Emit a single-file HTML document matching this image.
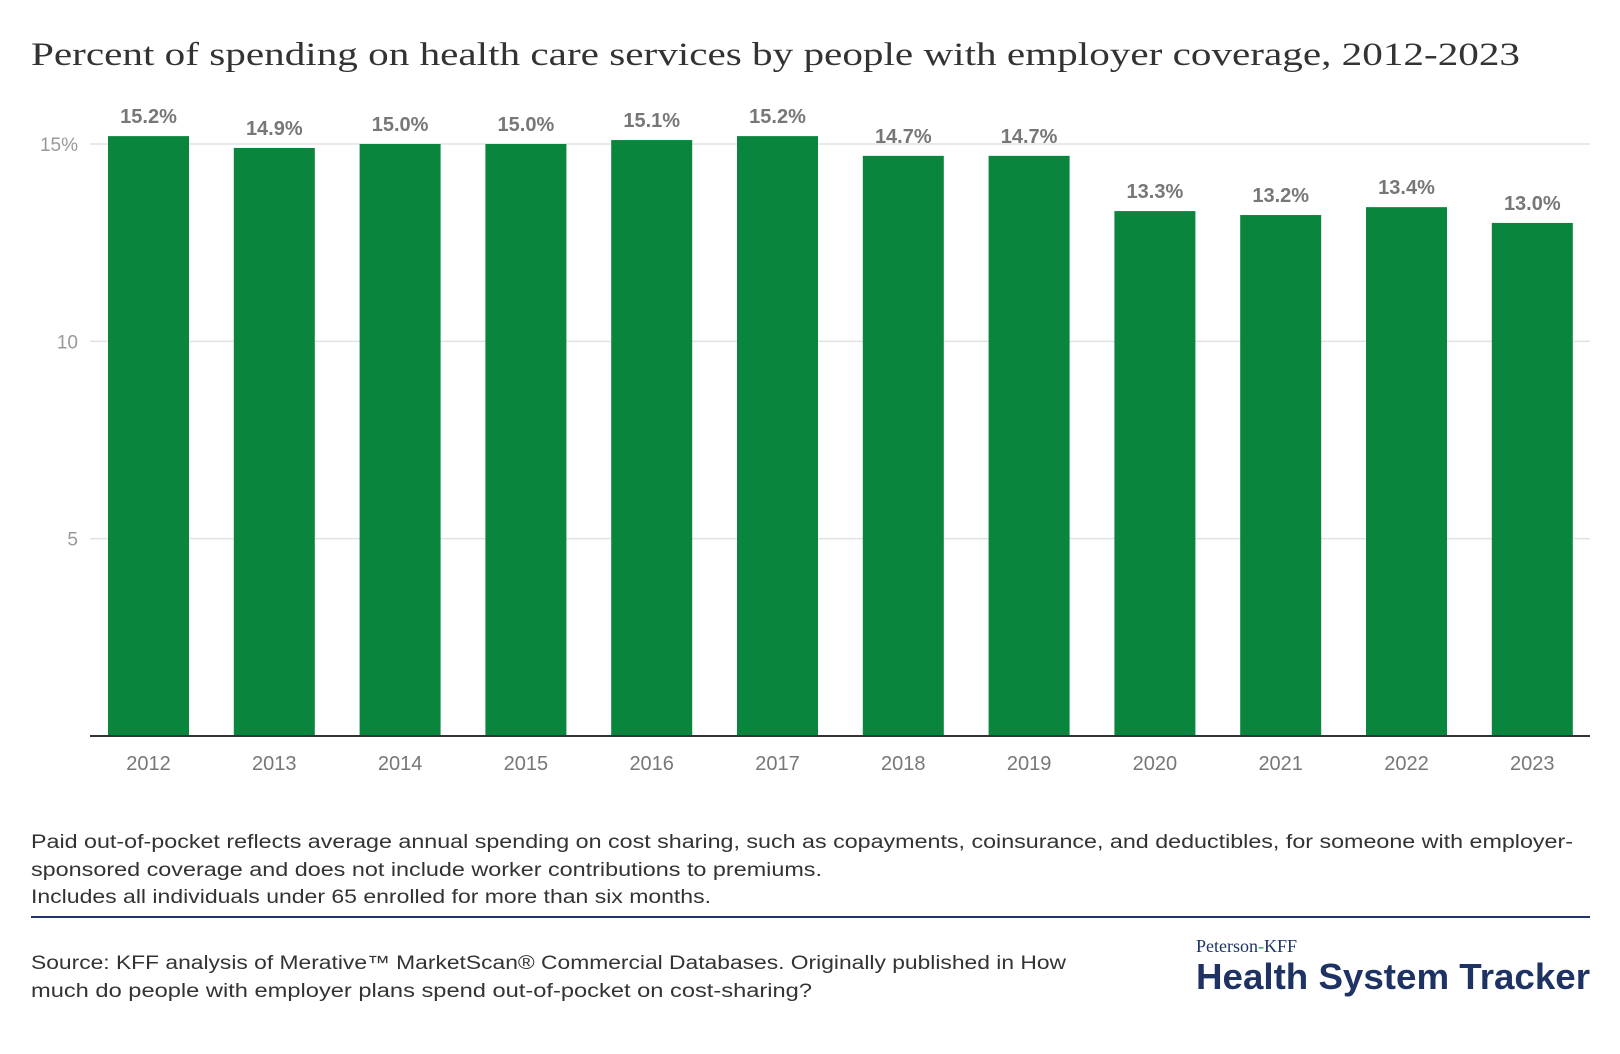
<!DOCTYPE html>
<html><head><meta charset="utf-8"><style>
html,body{margin:0;padding:0;background:#fff;}
svg{display:block;}
</style></head><body>
<svg id="chart" width="1620" height="1054" viewBox="0 0 1620 1054" xmlns="http://www.w3.org/2000/svg">
<text x="31" y="65" font-family="Liberation Serif, serif" font-size="33" fill="#333" textLength="1489" lengthAdjust="spacingAndGlyphs">Percent of spending on health care services by people with employer coverage, 2012-2023</text>
<g id="grid"></g>
<g id="bars"></g>
<g id="labels"></g>
<line x1="90" y1="736" x2="1590" y2="736" stroke="#333" stroke-width="2"/>
<g font-family="Liberation Sans, sans-serif" font-size="19" fill="#333">
<text x="31" y="848" textLength="1542" lengthAdjust="spacingAndGlyphs">Paid out-of-pocket reflects average annual spending on cost sharing, such as copayments, coinsurance, and deductibles, for someone with employer-</text>
<text x="31" y="876" textLength="791" lengthAdjust="spacingAndGlyphs">sponsored coverage and does not include worker contributions to premiums.</text>
<text x="31" y="903" textLength="680" lengthAdjust="spacingAndGlyphs">Includes all individuals under 65 enrolled for more than six months.</text>
<text x="31" y="969" textLength="1035" lengthAdjust="spacingAndGlyphs">Source: KFF analysis of Merative™ MarketScan® Commercial Databases. Originally published in How</text>
<text x="31" y="997" textLength="781" lengthAdjust="spacingAndGlyphs">much do people with employer plans spend out-of-pocket on cost-sharing?</text>
</g>
<line x1="31" y1="917" x2="1590" y2="917" stroke="#1f3566" stroke-width="2"/>
<text x="1196" y="952" font-family="Liberation Serif, serif" font-size="18" fill="#1e3264">Peterson<tspan fill="#2e9e4f">-</tspan>KFF</text>
<text x="1196" y="989" font-family="Liberation Sans, sans-serif" font-weight="bold" font-size="36" fill="#1e3264" textLength="394" lengthAdjust="spacingAndGlyphs">Health System Tracker</text>
</svg>
<script>
const years = ["2012","2013","2014","2015","2016","2017","2018","2019","2020","2021","2022","2023"];
const values = [15.2,14.9,15.0,15.0,15.1,15.2,14.7,14.7,13.3,13.2,13.4,13.0];
const valueLabels = ["15.2%","14.9%","15.0%","15.0%","15.1%","15.2%","14.7%","14.7%","13.3%","13.2%","13.4%","13.0%"];
const yTicks = [5,10,15];
const yTickLabels = ["5","10","15%"];

const NS="http://www.w3.org/2000/svg";
const y0=736, pxPerUnit=592/15;
function yScale(v){return y0 - v*pxPerUnit;}
function xCenter(i){return 148.5 + i*125.8;}
const barW=81;
function mk(tag,attrs){const e=document.createElementNS(NS,tag);for(const k in attrs)e.setAttribute(k,attrs[k]);return e;}
const grid=document.getElementById('grid'),bars=document.getElementById('bars'),labels=document.getElementById('labels');
yTicks.forEach((t,i)=>{
  const l=mk('line',{x1:90,x2:1590,y1:yScale(t),y2:yScale(t),stroke:'#e2e2e2','stroke-width':1.5});
  
  
  grid.appendChild(l);
  const tx=mk('text',{x:78,y:yScale(t)+7,'text-anchor':'end','font-family':'Liberation Sans, sans-serif','font-size':19,fill:'#999'});
  tx.textContent=yTickLabels[i];
  
  
  grid.appendChild(tx);
});
years.forEach((yr,i)=>{
  const cx=xCenter(i), top=yScale(values[i]);
  const r=mk('rect',{x:cx-barW/2,y:top,width:barW,height:y0-top,fill:'#0a853e'});
  
  
  bars.appendChild(r);
  const v=mk('text',{x:cx,y:top-13,'text-anchor':'middle','font-family':'Liberation Sans, sans-serif','font-size':20,'font-weight':'bold',fill:'#777'});
  v.textContent=valueLabels[i];
  
  
  labels.appendChild(v);
  const xl=mk('text',{x:cx,y:770,'text-anchor':'middle','font-family':'Liberation Sans, sans-serif','font-size':20,fill:'#777'});
  xl.textContent=yr;
  
  
  labels.appendChild(xl);
});
</script>
</body></html>
